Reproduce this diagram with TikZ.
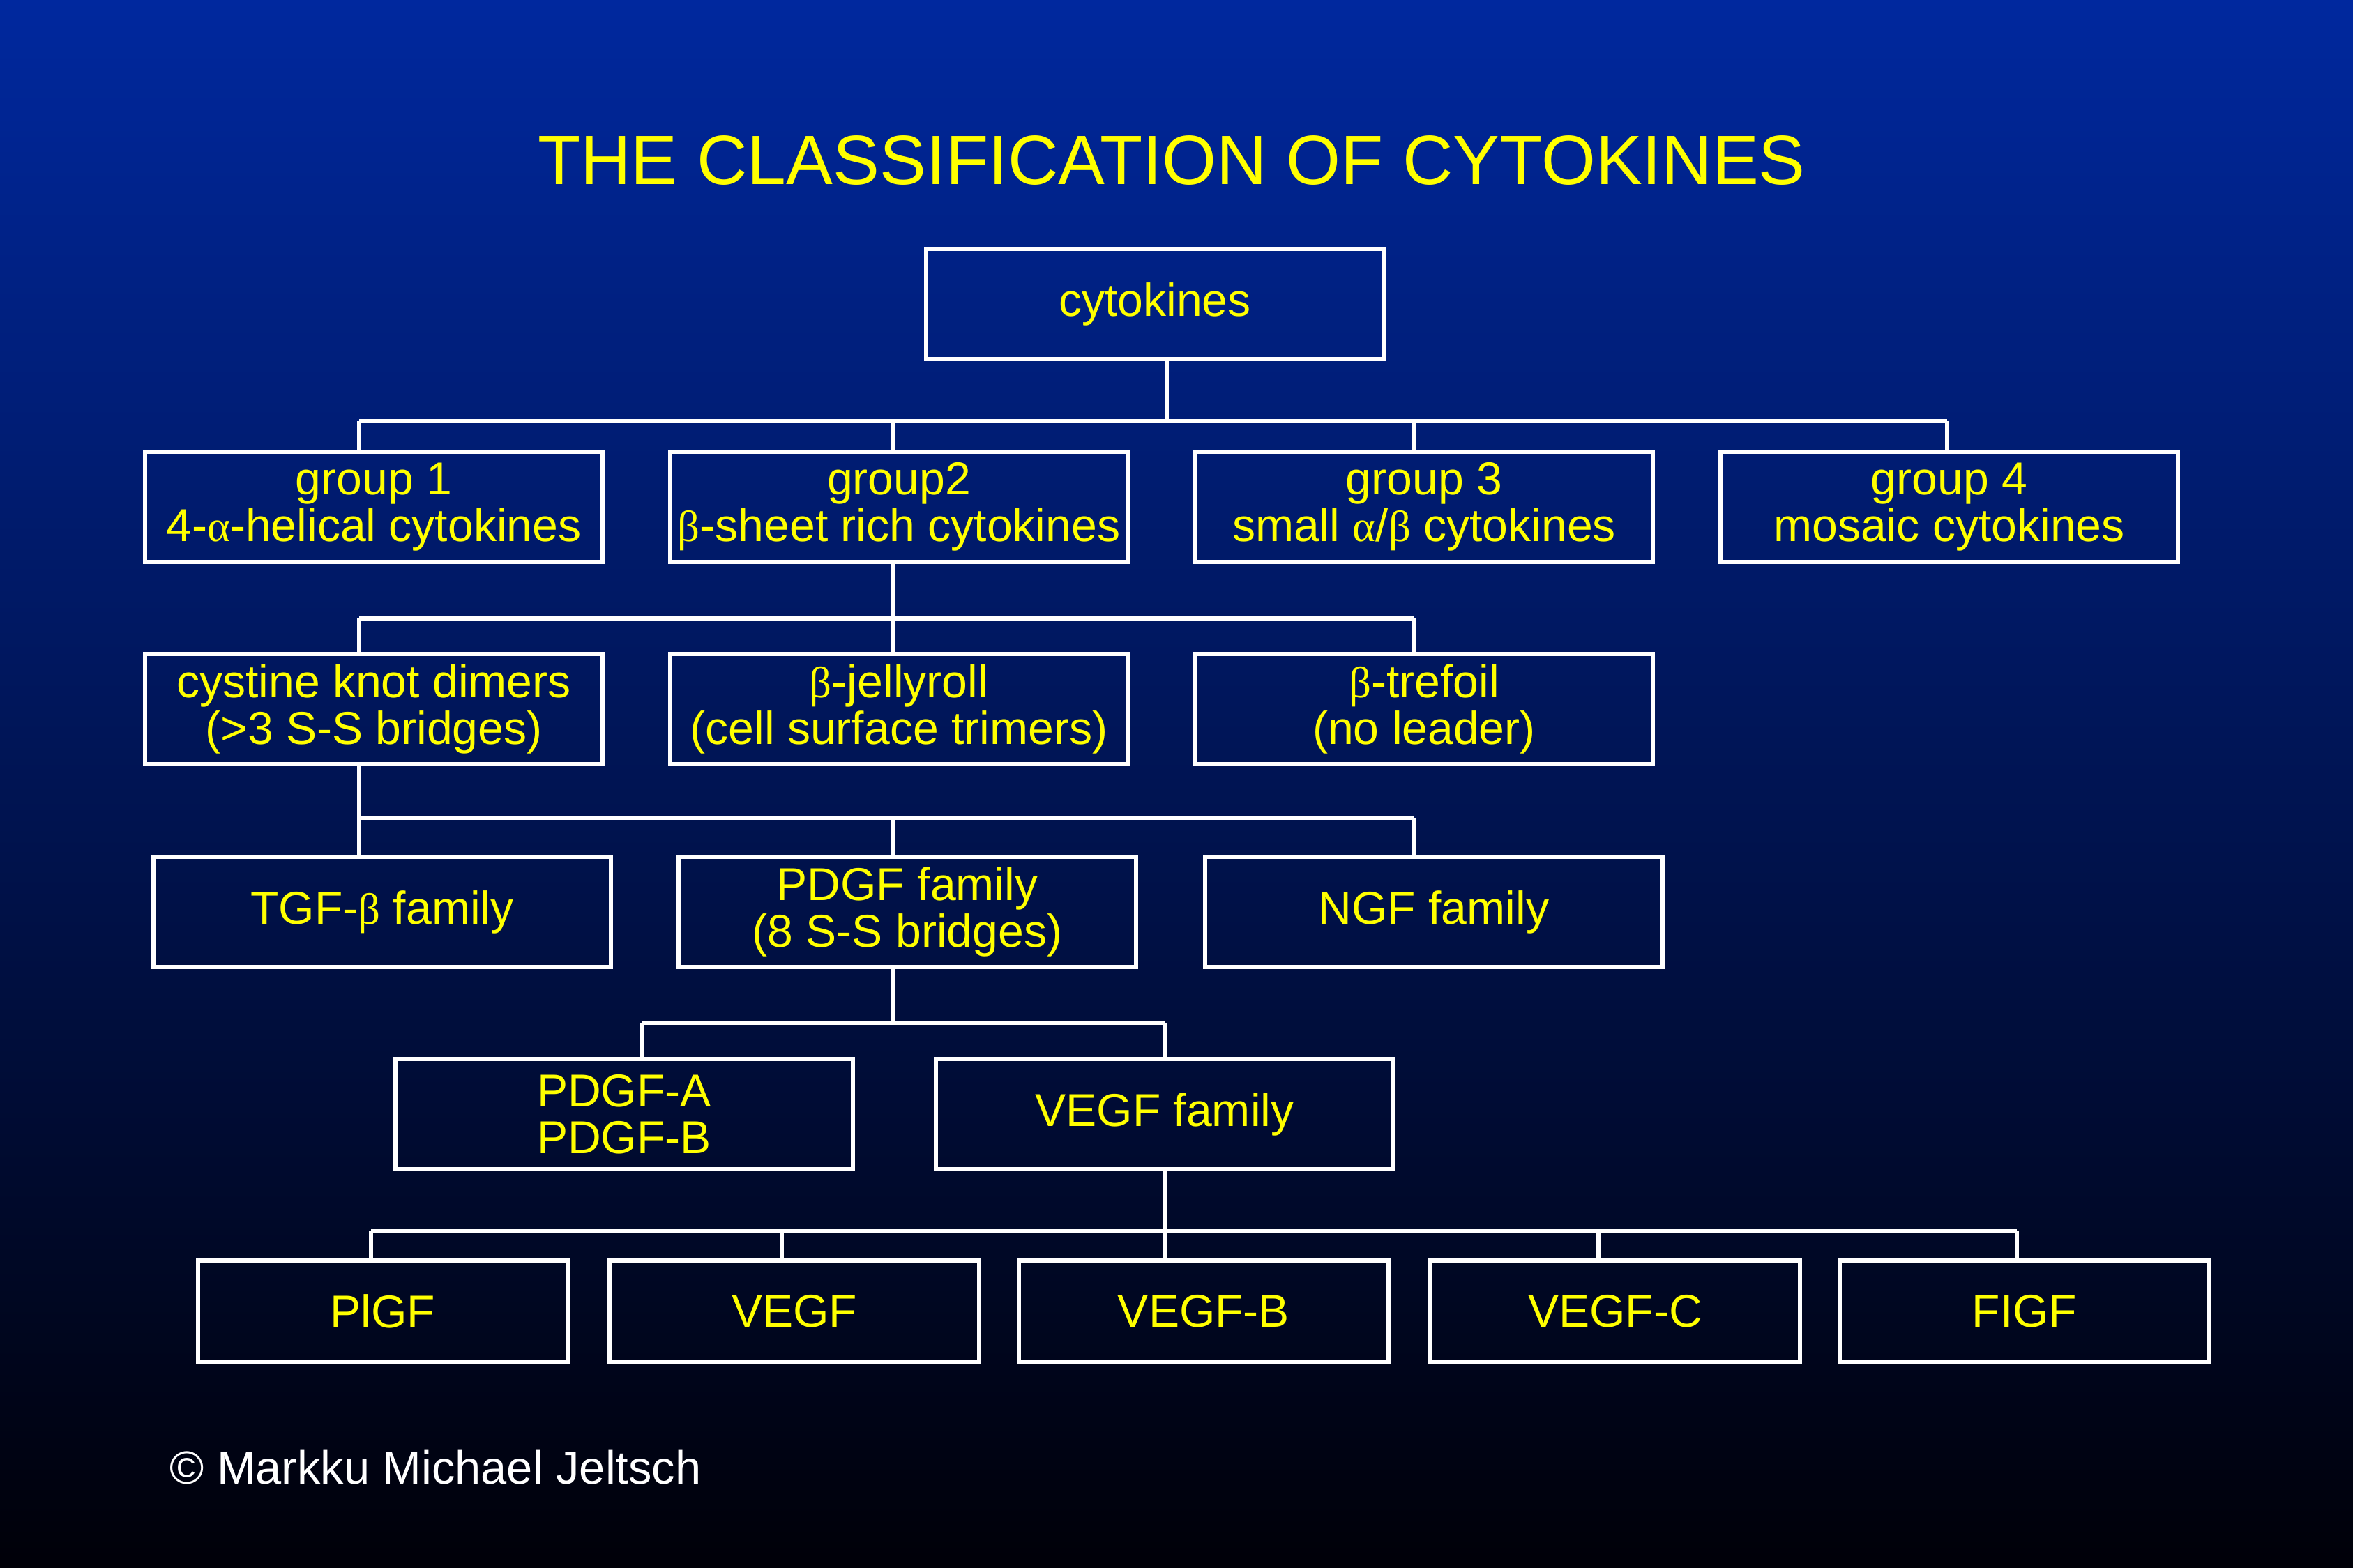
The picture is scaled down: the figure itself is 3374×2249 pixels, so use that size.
\documentclass[tikz,border=0pt]{standalone}
\usepackage{fontspec}
\setmainfont{Liberation Sans}
\newfontfamily\grk[Scale=0.95]{Liberation Serif}
\newcommand{\al}{{\grk α}}
\newcommand{\be}{{\grk β}}
\definecolor{bgtop}{RGB}{0,40,158}
\definecolor{bgbot}{RGB}{0,0,8}
\definecolor{txtyel}{RGB}{255,255,0}
\tikzset{
  bigbox/.style={draw=white, line width=1.7pt, minimum width=6.56cm, minimum height=1.58cm,
    inner sep=0pt, align=center, text=txtyel, font=\fontsize{18.8}{19}\selectfont},
  smallbox/.style={bigbox, minimum width=5.3cm, minimum height=1.46cm},
  wire/.style={draw=white, line width=1.5pt}
}
\begin{document}
\begin{tikzpicture}[x=0.01cm, y=-0.01cm]
\shade[top color=bgtop, bottom color=bgbot] (0,0) rectangle (3374,2249);
\useasboundingbox (0,0) rectangle (3374,2249);

\node[anchor=base, text=txtyel, font=\fontsize{28.5}{30}\selectfont] (title) at (1680,265) {THE CLASSIFICATION OF CYTOKINES};

% level 0
\node[bigbox] (cyt) at (1656,436) {cytokines};
% level 1
\node[bigbox] (g1) at (536,727) {group 1\\ 4-\al-helical cytokines};
\node[bigbox] (g2) at (1289,727) {group2\\ \be-sheet rich cytokines};
\node[bigbox] (g3) at (2042,727) {group 3\\ small \al/\be\ cytokines};
\node[bigbox] (g4) at (2795,727) {group 4\\ mosaic cytokines};
% level 2
\node[bigbox] (cyst) at (536,1017) {cystine knot dimers\\ (>3 S-S bridges)};
\node[bigbox] (jelly) at (1289,1017) {\be-jellyroll\\ (cell surface trimers)};
\node[bigbox] (tref) at (2042,1017) {\be-trefoil\\ (no leader)};
% level 3
\node[bigbox] (tgf) at (548,1308) {TGF-\be\ family};
\node[bigbox] (pdgf) at (1301,1308) {PDGF family\\ (8 S-S bridges)};
\node[bigbox] (ngf) at (2056,1308) {NGF family};
% level 4
\node[bigbox] (pdgfab) at (895,1598) {PDGF-A\\ PDGF-B};
\node[bigbox] (vegffam) at (1670,1598) {VEGF family};
% level 5
\node[smallbox] (plgf) at (549,1881) {PlGF};
\node[smallbox] (vegf) at (1139,1881) {VEGF};
\node[smallbox] (vegfb) at (1726,1881) {VEGF-B};
\node[smallbox] (vegfc) at (2316,1881) {VEGF-C};
\node[smallbox] (figf) at (2903,1881) {FIGF};

\node[anchor=base west, text=white, font=\fontsize{19}{19}\selectfont] (copy) at (231,2128) {© Markku Michael Jeltsch};

% connectors level 0 -> 1
\coordinate (a0) at (1673,604);
\coordinate (a1) at (515,604);
\coordinate (a2) at (1280,604);
\coordinate (a3) at (2027,604);
\coordinate (a4) at (2792,604);
\draw[wire] (a0 |- cyt.south) -- (a0);
\draw[wire] (a1) -- (a4);
\draw[wire] (a1) -- (a1 |- g1.north);
\draw[wire] (a2) -- (a2 |- g2.north);
\draw[wire] (a3) -- (a3 |- g3.north);
\draw[wire] (a4) -- (a4 |- g4.north);

% group2 -> level 2
\coordinate (b1) at (515,887);
\coordinate (b2) at (1280,887);
\coordinate (b3) at (2027,887);
\draw[wire] (b2 |- g2.south) -- (b2);
\draw[wire] (b1) -- (b3);
\draw[wire] (b1) -- (b1 |- cyst.north);
\draw[wire] (b2) -- (b2 |- jelly.north);
\draw[wire] (b3) -- (b3 |- tref.north);

% cystine -> level 3
\coordinate (c1) at (515,1173);
\coordinate (c2) at (1280,1173);
\coordinate (c3) at (2027,1173);
\draw[wire] (c1 |- cyst.south) -- (c1);
\draw[wire] (c1) -- (c3);
\draw[wire] (c1) -- (c1 |- tgf.north);
\draw[wire] (c2) -- (c2 |- pdgf.north);
\draw[wire] (c3) -- (c3 |- ngf.north);

% pdgf -> level 4
\coordinate (d0) at (1280,1467);
\coordinate (d1) at (920,1467);
\coordinate (d2) at (1670,1467);
\draw[wire] (d0 |- pdgf.south) -- (d0);
\draw[wire] (d1) -- (d2);
\draw[wire] (d1) -- (d1 |- pdgfab.north);
\draw[wire] (d2) -- (d2 |- vegffam.north);

% vegf family -> level 5
\coordinate (e0) at (1670,1766);
\coordinate (e1) at (532,1766);
\coordinate (e2) at (1121,1766);
\coordinate (e3) at (1670,1766);
\coordinate (e4) at (2292,1766);
\coordinate (e5) at (2892,1766);
\draw[wire] (e0 |- vegffam.south) -- (e0);
\draw[wire] (e1) -- (e5);
\draw[wire] (e1) -- (e1 |- plgf.north);
\draw[wire] (e2) -- (e2 |- vegf.north);
\draw[wire] (e3) -- (e3 |- vegfb.north);
\draw[wire] (e4) -- (e4 |- vegfc.north);
\draw[wire] (e5) -- (e5 |- figf.north);
\end{tikzpicture}
\end{document}
